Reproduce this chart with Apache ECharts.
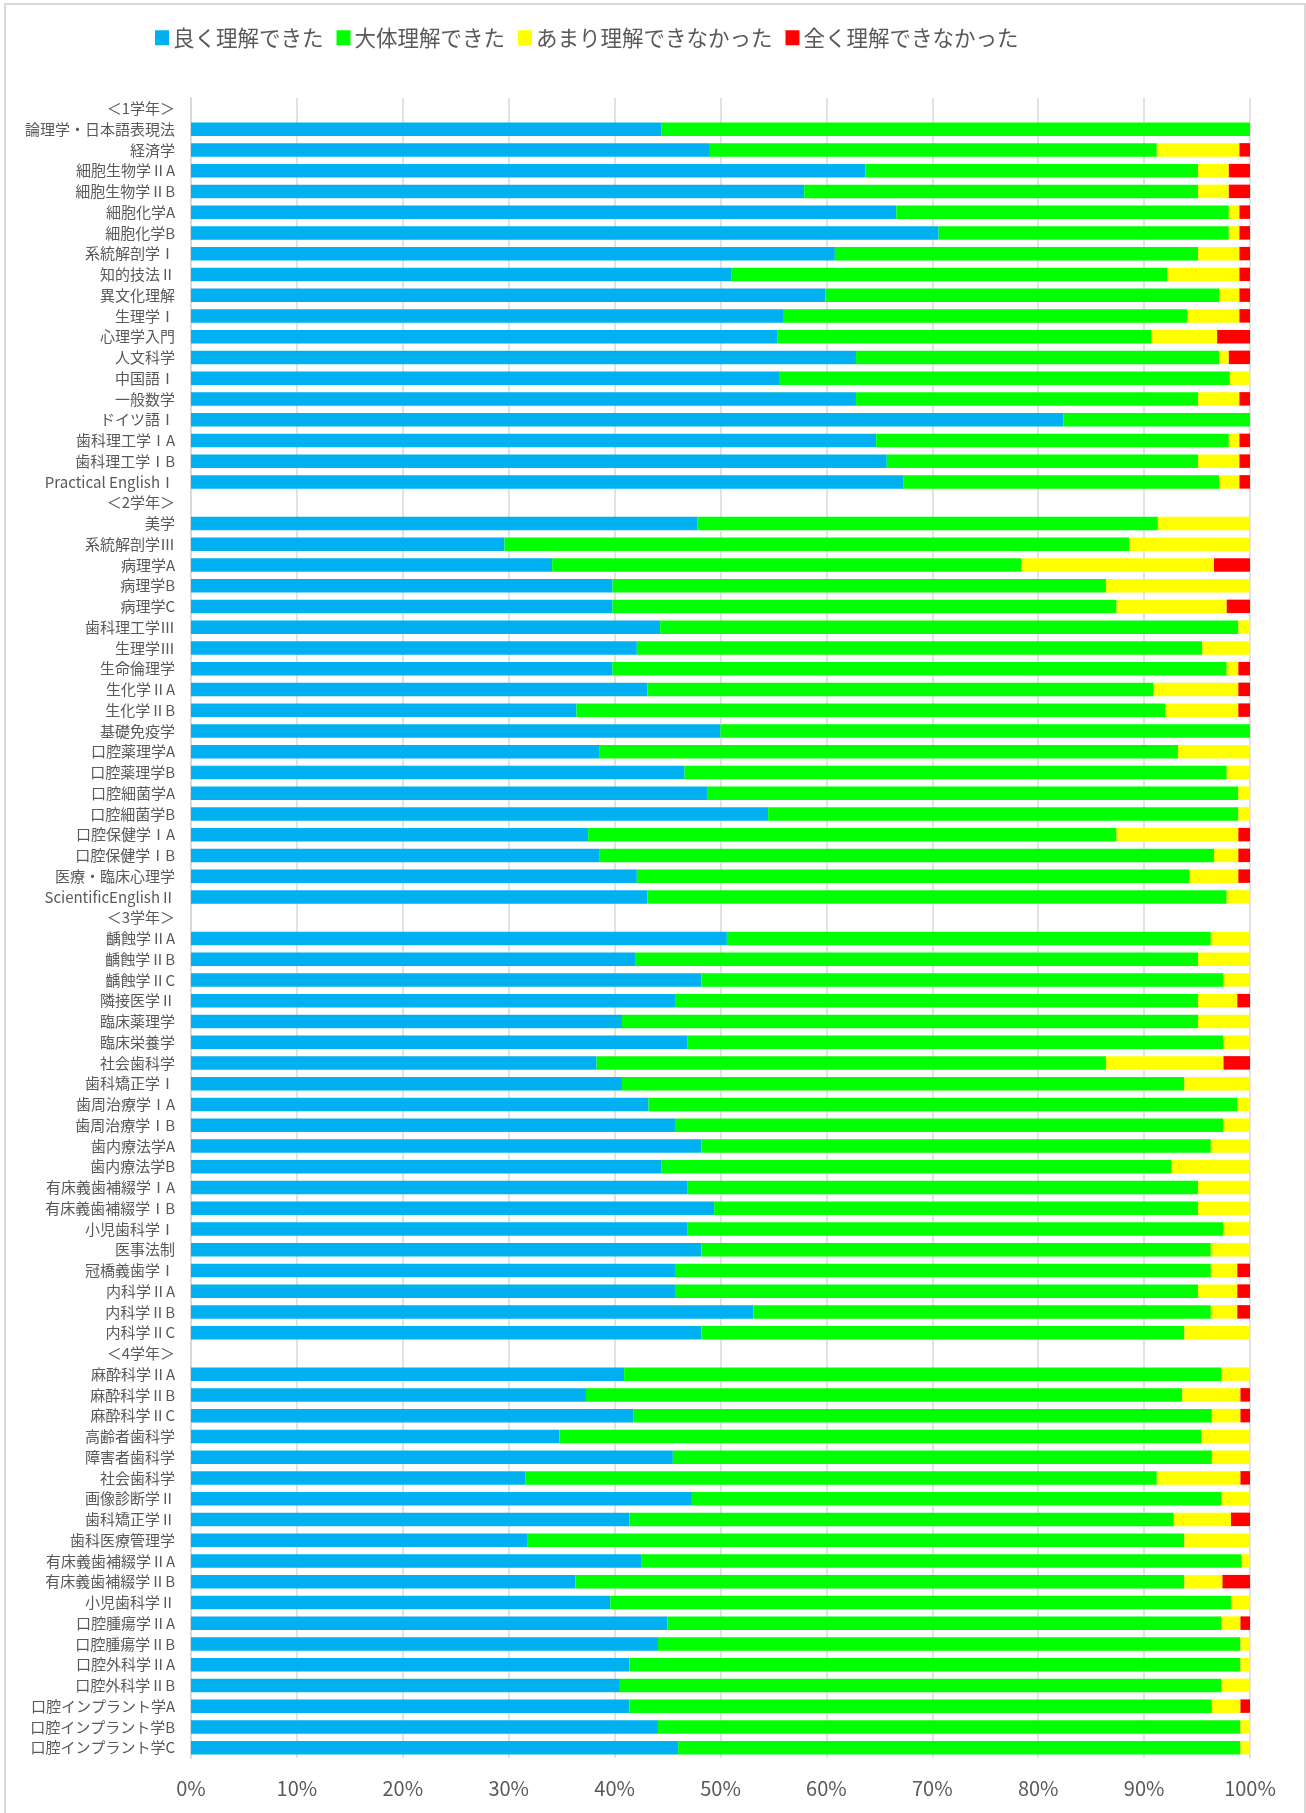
<!DOCTYPE html>
<html>
<head>
<meta charset="utf-8">
<script src="https://cdn.jsdelivr.net/npm/echarts@6/dist/echarts.min.js"></script>
<style>
  html, body { margin: 0; padding: 0; background: #fff; }
  #chart { width: 1306px; height: 1813px; }
</style>
</head>
<body>
<div id="chart"></div>
<script>
  // 科目名（学年見出しを含む）
  const categories = [
    '＜1学年＞',
    '論理学・日本語表現法', '経済学', '細胞生物学ⅡA', '細胞生物学ⅡB', '細胞化学A', '細胞化学B',
    '系統解剖学Ⅰ', '知的技法Ⅱ', '異文化理解', '生理学Ⅰ', '心理学入門', '人文科学', '中国語Ⅰ',
    '一般数学', 'ドイツ語Ⅰ', '歯科理工学ⅠA', '歯科理工学ⅠB', 'Practical EnglishⅠ',
    '＜2学年＞',
    '美学', '系統解剖学Ⅲ', '病理学A', '病理学B', '病理学C', '歯科理工学Ⅲ', '生理学Ⅲ', '生命倫理学',
    '生化学ⅡA', '生化学ⅡB', '基礎免疫学', '口腔薬理学A', '口腔薬理学B', '口腔細菌学A', '口腔細菌学B',
    '口腔保健学ⅠA', '口腔保健学ⅠB', '医療・臨床心理学', 'ScientificEnglishⅡ',
    '＜3学年＞',
    '齲蝕学ⅡA', '齲蝕学ⅡB', '齲蝕学ⅡC', '隣接医学Ⅱ', '臨床薬理学', '臨床栄養学', '社会歯科学',
    '歯科矯正学Ⅰ', '歯周治療学ⅠA', '歯周治療学ⅠB', '歯内療法学A', '歯内療法学B',
    '有床義歯補綴学ⅠA', '有床義歯補綴学ⅠB', '小児歯科学Ⅰ', '医事法制', '冠橋義歯学Ⅰ',
    '内科学ⅡA', '内科学ⅡB', '内科学ⅡC',
    '＜4学年＞',
    '麻酔科学ⅡA', '麻酔科学ⅡB', '麻酔科学ⅡC', '高齢者歯科学', '障害者歯科学', '社会歯科学',
    '画像診断学Ⅱ', '歯科矯正学Ⅱ', '歯科医療管理学', '有床義歯補綴学ⅡA', '有床義歯補綴学ⅡB',
    '小児歯科学Ⅱ', '口腔腫瘍学ⅡA', '口腔腫瘍学ⅡB', '口腔外科学ⅡA', '口腔外科学ⅡB',
    '口腔インプラント学A', '口腔インプラント学B', '口腔インプラント学C'
  ];

  // 良く理解できた (%)
  const good = [
    '-',
    44.4, 49.0, 63.7, 57.9, 66.6, 70.6, 60.8, 51.0, 59.9, 55.9, 55.4, 62.8, 55.6, 62.8, 82.4, 64.7, 65.7, 67.3,
    '-',
    47.8, 29.6, 34.1, 39.8, 39.8, 44.3, 42.1, 39.8, 43.1, 36.4, 50.0, 38.6, 46.6, 48.8, 54.5, 37.5, 38.6, 42.1, 43.1,
    '-',
    50.6, 42.0, 48.2, 45.7, 40.7, 46.9, 38.3, 40.7, 43.2, 45.7, 48.2, 44.4, 46.9, 49.4, 46.9, 48.2, 45.7, 45.7, 53.1, 48.2,
    '-',
    40.9, 37.3, 41.8, 34.8, 45.5, 31.6, 47.3, 41.4, 31.8, 42.5, 36.3, 39.6, 45.0, 44.1, 41.4, 40.5, 41.4, 44.1, 46.0
  ];

  // 大体理解できた (%)
  const mostly = [
    '-',
    55.6, 42.2, 31.4, 37.2, 31.4, 27.4, 34.3, 41.2, 37.2, 38.2, 35.3, 34.3, 42.5, 32.3, 17.6, 33.3, 29.4, 29.8,
    '-',
    43.5, 59.0, 44.3, 46.6, 47.6, 54.6, 53.4, 58.0, 47.8, 55.6, 50.0, 54.6, 51.2, 50.1, 44.4, 49.9, 58.0, 52.2, 54.7,
    '-',
    45.7, 53.1, 49.3, 49.4, 54.4, 50.6, 48.1, 53.1, 55.6, 51.8, 48.1, 48.2, 48.2, 45.7, 50.6, 48.1, 50.6, 49.4, 43.2, 45.6,
    '-',
    56.4, 56.3, 54.6, 60.6, 50.9, 59.6, 50.0, 51.4, 62.0, 56.7, 57.5, 58.6, 52.3, 55.0, 57.7, 56.8, 55.0, 55.0, 53.1
  ];

  // あまり理解できなかった (%)
  const little = [
    '-',
    0, 7.8, 2.9, 2.9, 1.0, 1.0, 3.9, 6.8, 1.9, 4.9, 6.2, 0.9, 1.9, 3.9, 0, 1.0, 3.9, 1.9,
    '-',
    8.7, 11.4, 18.2, 13.6, 10.4, 1.1, 4.5, 1.1, 8.0, 6.9, 0, 6.8, 2.2, 1.1, 1.1, 11.5, 2.3, 4.6, 2.2,
    '-',
    3.7, 4.9, 2.5, 3.7, 4.9, 2.5, 11.1, 6.2, 1.2, 2.5, 3.7, 7.4, 4.9, 4.9, 2.5, 3.7, 2.5, 3.7, 2.5, 6.2,
    '-',
    2.7, 5.5, 2.7, 4.6, 3.6, 7.9, 2.7, 5.4, 6.2, 0.8, 3.6, 1.8, 1.8, 0.9, 0.9, 2.7, 2.7, 0.9, 0.9
  ];

  // 全く理解できなかった (%)
  const none = [
    '-',
    0, 1.0, 2.0, 2.0, 1.0, 1.0, 1.0, 1.0, 1.0, 1.0, 3.1, 2.0, 0, 1.0, 0, 1.0, 1.0, 1.0,
    '-',
    0, 0, 3.4, 0, 2.2, 0, 0, 1.1, 1.1, 1.1, 0, 0, 0, 0, 0, 1.1, 1.1, 1.1, 0,
    '-',
    0, 0, 0, 1.2, 0, 0, 2.5, 0, 0, 0, 0, 0, 0, 0, 0, 0, 1.2, 1.2, 1.2, 0,
    '-',
    0, 0.9, 0.9, 0, 0, 0.9, 0, 1.8, 0, 0, 2.6, 0, 0.9, 0, 0, 0, 0.9, 0, 0
  ];

  const seriesNames = ['良く理解できた', '大体理解できた', 'あまり理解できなかった', '全く理解できなかった'];
  const xTicks = [0, 10, 20, 30, 40, 50, 60, 70, 80, 90, 100];

  const font = "'Noto Sans CJK JP', 'Noto Sans', sans-serif";
  const textColor = '#595959';

  let chart = echarts.init(document.getElementById('chart'), null, { renderer: 'canvas' });

  function barSeries(name, data, color) {
    return {
      name: name,
      type: 'bar',
      stack: 'total',
      data: data,
      barWidth: 13.5,
      itemStyle: { color: color },
      emphasis: { disabled: true }
    };
  }

  let option = {
    backgroundColor: '#fff',
    animation: false,
    textStyle: { fontFamily: font },
    graphic: [
      {
        type: 'rect',
        shape: { x: 5, y: 4, width: 1300, height: 1860 },
        style: { fill: 'none', stroke: '#d9d9d9', lineWidth: 2 },
        silent: true
      }
    ],
    legend: {
      data: seriesNames,
      left: 150,
      top: 22,
      itemWidth: 14,
      itemHeight: 15,
      itemGap: 13,
      icon: 'rect',
      textStyle: { fontSize: 21.5, color: textColor, fontFamily: font, padding: [0, 0, 0, -1] }
    },
    grid: {
      left: 191,
      right: 56,
      top: 98,
      bottom: 55,
      containLabel: false
    },
    xAxis: {
      type: 'value',
      min: 0,
      max: 100,
      interval: 10,
      axisLine: { show: false },
      axisTick: { show: false },
      axisLabel: {
        margin: 20,
        fontSize: 20,
        color: textColor,
        fontFamily: font,
        formatter: function (v) { return xTicks.indexOf(v) >= 0 ? v + '%' : ''; }
      },
      splitLine: { show: true, lineStyle: { color: '#d9d9d9', width: 1.5 } }
    },
    yAxis: {
      type: 'category',
      data: categories,
      inverse: true,
      axisLine: { show: true, lineStyle: { color: '#d9d9d9', width: 2 } },
      axisTick: { show: false },
      axisLabel: {
        interval: 0,
        margin: 16,
        fontSize: 15,
        color: textColor,
        fontFamily: font
      }
    },
    series: [
      barSeries(seriesNames[0], good, '#00B0F0'),
      barSeries(seriesNames[1], mostly, '#00FF00'),
      barSeries(seriesNames[2], little, '#FFFF00'),
      barSeries(seriesNames[3], none, '#FF0000')
    ]
  };

  chart.setOption(option);
</script>
</body>
</html>
